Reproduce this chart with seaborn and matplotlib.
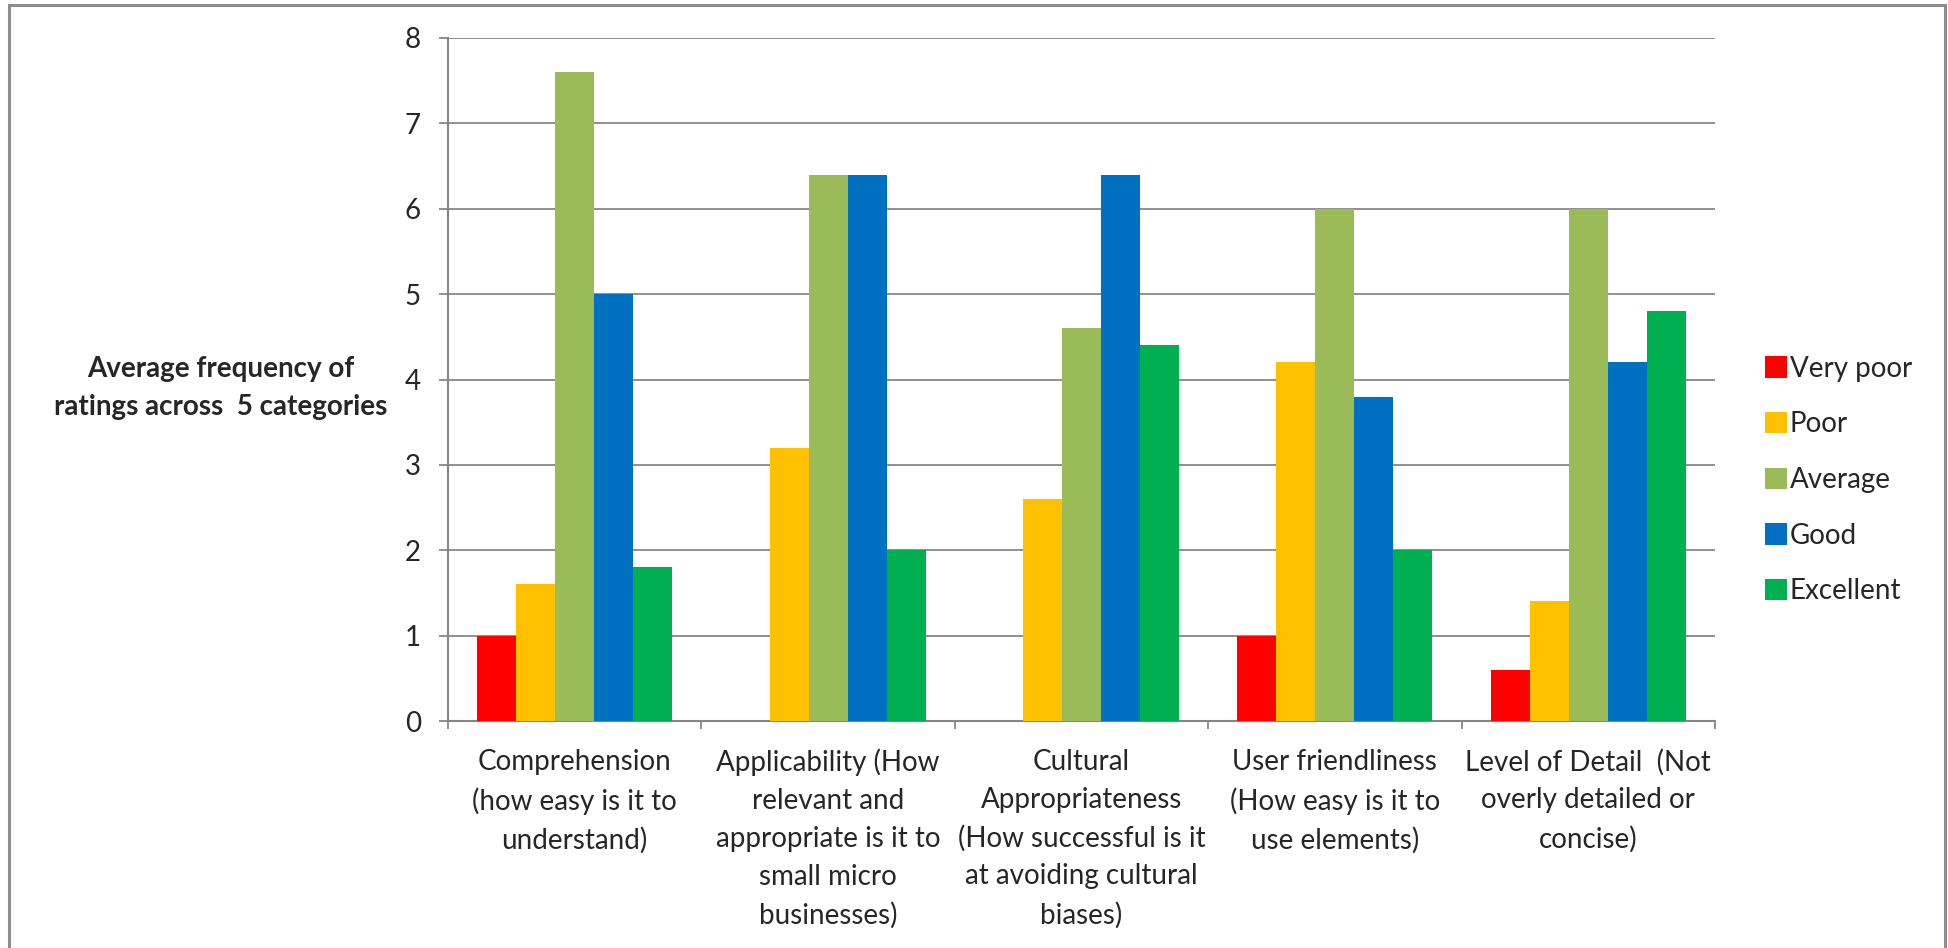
import pandas as pd
import seaborn as sns
import matplotlib.pyplot as plt
from matplotlib.patches import Rectangle

categories = [
    "Comprehension\n(how easy is it to\nunderstand)",
    "Applicability (How\nrelevant and\nappropriate is it to\nsmall micro\nbusinesses)",
    "Cultural\nAppropriateness\n(How successful is it\nat avoiding cultural\nbiases)",
    "User friendliness\n(How easy is it to\nuse elements)",
    "Level of Detail  (Not\noverly detailed or\nconcise)",
]
ratings = ["Very poor", "Poor", "Average", "Good", "Excellent"]
very_poor = [1.0, 0.0, 0.0, 1.0, 0.6]
poor = [1.6, 3.2, 2.6, 4.2, 1.4]
average = [7.6, 6.4, 4.6, 6.0, 6.0]
good = [5.0, 6.4, 6.4, 3.8, 4.2]
excellent = [1.8, 2.0, 4.4, 2.0, 4.8]
colors = ["#FF0000", "#FFC000", "#9BBB59", "#0070C0", "#00B050"]

rows = []
for rating, vals in zip(ratings, [very_poor, poor, average, good, excellent]):
    for cat, v in zip(categories, vals):
        rows.append({"Category": cat, "Rating": rating, "Value": v})
df = pd.DataFrame(rows)

sns.set_style("white")
plt.rcParams["font.family"] = ["Lato", "DejaVu Sans"]
fs = 20

fig = plt.figure(figsize=(19.48, 9.48), dpi=100)
ax = fig.add_axes([448 / 1948, 1 - 721 / 948, (1715 - 448) / 1948, (721 - 38) / 948])

sns.barplot(data=df, x="Category", y="Value", hue="Rating", hue_order=ratings,
            palette=colors, width=0.77, linewidth=0, saturation=1, ax=ax, zorder=3)

grid_c = "#868686"
ax.set_ylim(0, 8)
ax.set_xlim(-0.5, 4.5)
ax.set_yticks(range(0, 9))
ax.yaxis.grid(True, color=grid_c, linewidth=1.3, zorder=0)
ax.set_axisbelow(True)
for s in ["top", "right"]:
    ax.spines[s].set_visible(False)
for s in ["left", "bottom"]:
    ax.spines[s].set_color(grid_c)
    ax.spines[s].set_linewidth(1.5)

ax.tick_params(axis="y", which="major", direction="out", length=6.5, width=1.3,
               color=grid_c, labelsize=fs, pad=13, left=True)
ax.set_xticks([-0.5, 0.5, 1.5, 2.5, 3.5, 4.5], minor=True)
ax.tick_params(axis="x", which="minor", direction="out", length=6, width=1.3, color=grid_c, bottom=True)
ax.tick_params(axis="x", which="major", length=0, labelsize=fs, pad=20)
for lbl in ax.get_xticklabels():
    lbl.set_linespacing(1.56)
    lbl.set_horizontalalignment("center")

ax.set_xlabel("")
ax.set_ylabel("")
fig.text(221 / 1948, 1 - 388 / 948, "Average frequency of\nratings across  5 categories",
         ha="center", va="center", fontsize=fs, fontweight="bold", linespacing=1.6)

handles, labels = ax.get_legend_handles_labels()
ax.legend(handles, labels, loc="center left", bbox_to_anchor=(1765 / 1948, 1 - 480 / 948),
          bbox_transform=fig.transFigure, frameon=False, fontsize=fs,
          handlelength=0.8, handleheight=0.8, handletextpad=0.1,
          labelspacing=1.07, borderpad=0, borderaxespad=0)

fig.add_artist(Rectangle((9 / 1948, -0.1), (1945 - 9) / 1948, 1.1 - 5 / 948,
                         transform=fig.transFigure, fill=False, edgecolor="#8C8C8C",
                         linewidth=2.2, clip_on=False))

fig.savefig("out.png", dpi=100)
